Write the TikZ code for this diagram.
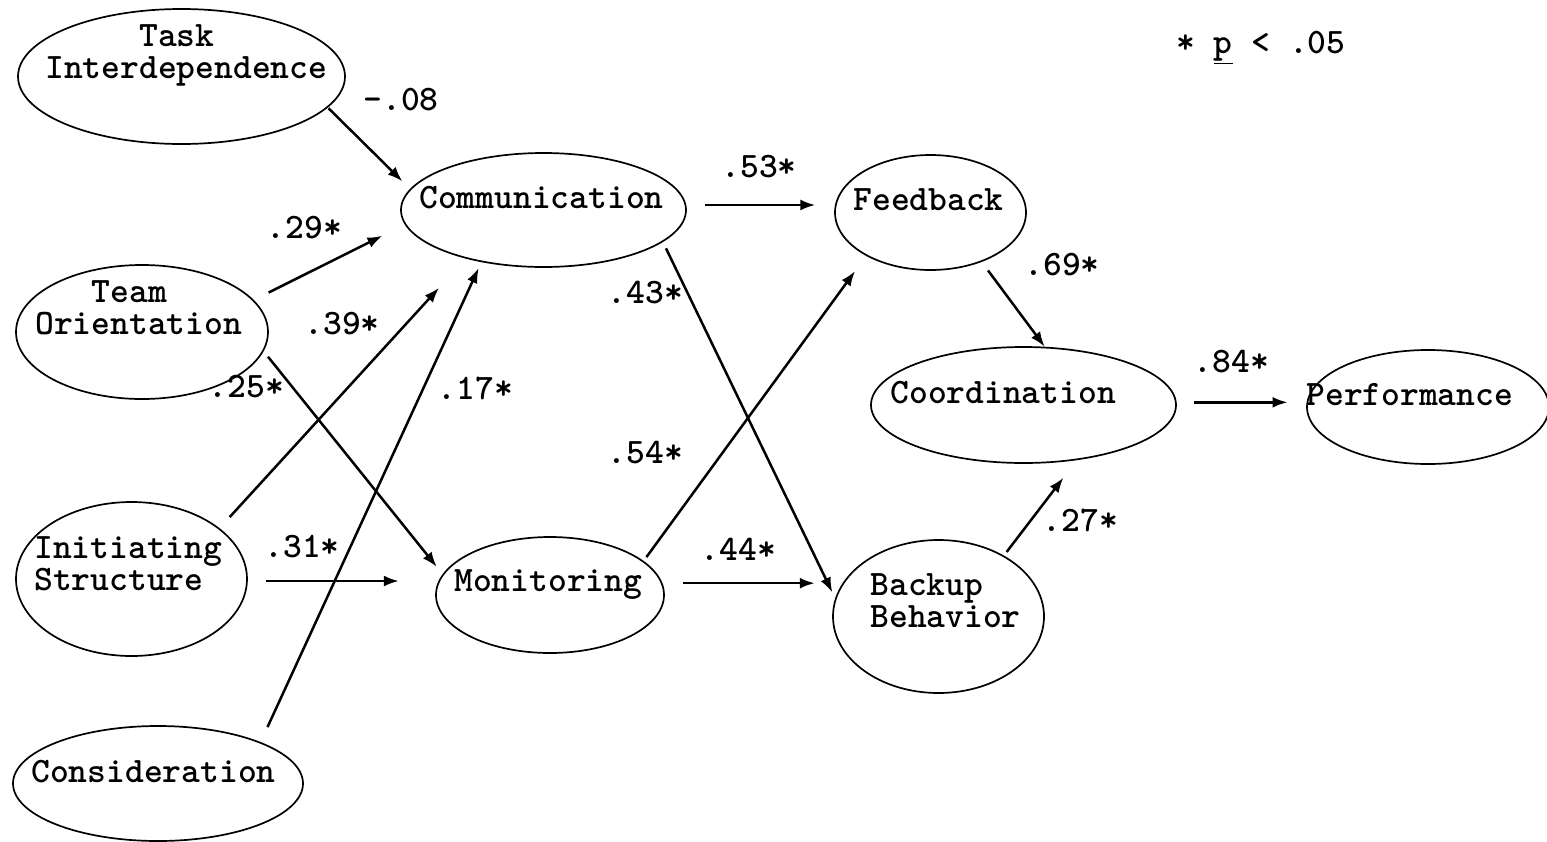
\documentclass[tikz,border=0pt]{standalone}
\usepackage{fontspec}
\usetikzlibrary{arrows.meta, shapes.geometric}

\begin{document}
\begin{tikzpicture}[x=0.5pt, y=-0.5pt,
  >={Latex[length=7.5pt, width=5.5pt]},
  latent/.style 2 args={ellipse, draw, line width=0.85pt, inner sep=0pt,
    minimum width=#1, minimum height=#2},
  lbl/.style={font=\fontsize{17.9}{16}\selectfont\ttfamily\bfseries, inner sep=0pt, anchor=base west},
  coef/.style={font=\fontsize{17.9}{16}\selectfont\ttfamily\bfseries, inner sep=0pt, anchor=base},
  link/.style={->, line width=1.25pt}]

% Canvas: 1547 x 841 px, 1 px = 0.5pt, y downwards
\useasboundingbox (0,0) rectangle (1547,841);

% Constructs (ellipses)
\node[latent={163.5pt}{67.5pt}] (task) at (181.5,76.5) {};
\node[latent={126pt}{67pt}] (team) at (142,332) {};
\node[latent={115.5pt}{77pt}] (init) at (131.5,579) {};
\node[latent={145pt}{57.5pt}] (cons) at (158,783.5) {};
\node[latent={142.5pt}{57pt}] (comm) at (543.5,210) {};
\node[latent={114pt}{58pt}] (mon) at (550,595) {};
\node[latent={95.5pt}{57.5pt}] (feed) at (930.5,212.5) {};
\node[latent={105.5pt}{76.5pt}] (back) at (938.5,616.5) {};
\node[latent={152.5pt}{58pt}] (coord) at (1023.5,405) {};
\node[latent={121pt}{57pt}] (perf) at (1428,407) {};

% Construct names (base = last line)
\node[lbl, align=left] (task-t) at (45,78) {\phantom{Inter}Task\\Interdependence};
\node[lbl, align=left] (team-t) at (35,334) {\phantom{Ori}Team\\Orientation};
\node[lbl, align=left] (init-t) at (34,590) {Initiating\\Structure};
\node[lbl] (cons-t) at (31,782) {Consideration};
\node[lbl] (comm-t) at (419,208) {Communication};
\node[lbl] (mon-t) at (454,591) {Monitoring};
\node[lbl] (feed-t) at (853,210) {Feedback};
\node[lbl, align=left] (back-t) at (870,627) {Backup\\Behavior};
\node[lbl] (coord-t) at (890,403) {Coordination};
\node[lbl] (perf-t) at (1306,405) {Performance};

% Paths
\draw[link, shorten <=0.5pt, shorten >=5.35pt] (task.-12) -- (comm.171.8);
\draw[link, shorten <=8.25pt, shorten >=12.5pt] (team.16.5) -- (comm.-174.2);
\draw[link, shorten <=7.5pt, shorten >=19.75pt] (init.30.6) -- (comm.-148);
\draw[link, shorten <=8.25pt, shorten >=3.25pt] (cons.22.5) -- (comm.-140.9);
\draw[link, shorten <=3.5pt, shorten >=4.65pt] (team.-9.2) -- (mon.169.5);
\draw[link, shorten <=9pt, shorten >=20.2pt] (init.-1) -- (mon.172.8 |- init.-1);
\draw[link, shorten <=9.3pt, shorten >=9.9pt] (comm.2) -- (feed.175.5 |- comm.2);
\draw[link, shorten <=3.5pt, shorten >=3.25pt] (comm.-15) -- (back.170.2);
\draw[link, shorten <=2.4pt, shorten >=9.35pt] (mon.20.3) -- (feed.-146.7);
\draw[link, shorten <=10.25pt, shorten >=14.3pt] (mon.6.1) -- (back.160.5 |- mon.6.1);
\draw[link, shorten <=5.3pt] (feed.-44.2) -- (coord.70.2);
\draw[link, shorten <=2.25pt, shorten >=11pt] (back.43.7) -- (coord.-46.5);
\draw[link, shorten <=8.8pt, shorten >=9.95pt] (coord.1.9) -- (perf.176.7 |- coord.1.9);

% Path coefficients
\node[coef] (c-task) at (401,110) {-.08};
\node[coef] (c-team1) at (304.5,238) {.29*};
\node[coef] (c-init1) at (342,334) {.39*};
\node[coef] (c-team2) at (246.5,397) {.25*};
\node[coef] (c-cons) at (475.5,399) {.17*};
\node[coef] (c-init2) at (302,557) {.31*};
\node[coef] (c-comm1) at (645.5,303) {.43*};
\node[coef] (c-mon1) at (645.5,463) {.54*};
\node[coef] (c-mon2) at (738.5,560) {.44*};
\node[coef] (c-comm2) at (759,177) {.53*};
\node[coef] (c-feed) at (1062,275) {.69*};
\node[coef] (c-coord) at (1231.5,372) {.84*};
\node[coef] (c-back) at (1080.5,531) {.27*};

% Note
\node[coef] (note) at (1261,53) {* \underline{p} < .05};

\end{tikzpicture}
\end{document}
